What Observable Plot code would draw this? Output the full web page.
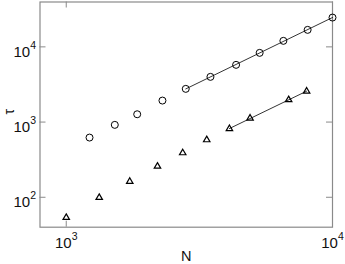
<!DOCTYPE html>
<html>
<head>
<meta charset="utf-8">
<script src="https://cdn.jsdelivr.net/npm/d3@7"></script>
<script src="https://cdn.jsdelivr.net/npm/@observablehq/plot@0.6"></script>
<style>
  html, body { margin: 0; padding: 0; background: #fff; }
  #chart svg { display: block; }
</style>
</head>
<body>
<div id="chart"></div>
<script>
// Circles series
const circleN   = [1223, 1522, 1847, 2298, 2811, 3480, 4344, 5326, 6539, 8065, 10000];
const circleTau = [622, 918, 1270, 1931, 2764, 3990, 5765, 8320, 12020, 16830, 24530];
// Triangles series
const triN   = [1000, 1330, 1732, 2201, 2738, 3370, 4101, 4902, 6844, 7995];
const triTau = [53.7, 99, 162, 258, 389, 580, 815, 1124, 1974, 2570];
// fit ranges (first N included in power-law fit)
const circleFitFrom = 2800;
const triFitFrom = 4000;
// ticks
const xTicks = [1000, 10000];
const yTicks = [100, 1000, 10000];
const xLabel = "N";
const yLabel = "τ";

const circles = circleN.map((n, i) => ({N: n, tau: circleTau[i]}));
const tris = triN.map((n, i) => ({N: n, tau: triTau[i]}));

function fitLine(data, from) {
  const pts = data.filter(d => d.N >= from);
  const xs = pts.map(d => Math.log10(d.N)), ys = pts.map(d => Math.log10(d.tau));
  const mx = d3.mean(xs), my = d3.mean(ys);
  const b = d3.sum(xs, (x, i) => (x - mx) * (ys[i] - my)) / d3.sum(xs, x => (x - mx) ** 2);
  const a = my - b * mx;
  const [x0, x1] = d3.extent(pts, d => d.N);
  return [x0, x1].map(n => ({N: n, tau: Math.pow(10, a + b * Math.log10(n))}));
}
const circleFit = fitLine(circles, circleFitFrom);
const triFit = fitLine(tris, triFitFrom);

const W = 345, H = 264;
const mL = 39.5, mR = 13, mT = 1.5, mB = 37.3;
const innerW = W - mL - mR, innerH = H - mT - mB;
const tickLen = 6;
const gray = "#8a8a8a";
const fmt = d => "10^" + Math.round(Math.log10(d));
const font = "'Liberation Sans', Arial, sans-serif";

const chart = Plot.plot({
  width: W, height: H,
  marginLeft: mL, marginRight: mR, marginTop: mT, marginBottom: mB,
  x: {type: "log", domain: [797, 10000]},
  y: {type: "log", domain: [40, 39500]},
  style: {fontFamily: font, fontSize: "15px", color: "#111", background: "#fff"},
  marks: [
    Plot.frame({stroke: gray, strokeWidth: 1.2}),
    Plot.tickX(xTicks, {x: d => d, stroke: gray, insetTop: innerH - tickLen}),
    Plot.tickX(xTicks, {x: d => d, stroke: gray, insetBottom: innerH - tickLen}),
    Plot.tickY(yTicks, {y: d => d, stroke: gray, insetRight: innerW - tickLen}),
    Plot.tickY(yTicks, {y: d => d, stroke: gray, insetLeft: innerW - tickLen}),
    Plot.axisX({ticks: xTicks, tickSize: 0, tickPadding: 10, tickFormat: fmt, fontSize: 15, label: null}),
    Plot.axisY({ticks: yTicks, tickSize: 0, tickPadding: 4, tickFormat: fmt, dy: 5, fontSize: 15, label: null}),
    Plot.text([xLabel], {text: d => d, frameAnchor: "bottom", dy: 33.5, lineAnchor: "bottom", fontSize: 14.5, fill: "#111"}),
    Plot.text([yLabel], {text: d => d, frameAnchor: "left", dx: -36, rotate: -90, lineAnchor: "top", fontSize: 14, fill: "#111"}),
    Plot.line(circleFit, {x: "N", y: "tau", stroke: "#000", strokeWidth: 0.8}),
    Plot.line(triFit, {x: "N", y: "tau", stroke: "#000", strokeWidth: 0.8}),
    Plot.dot(circles, {x: "N", y: "tau", r: 3.5, stroke: "#000", strokeWidth: 1, fill: "none"}),
    Plot.dot(tris, {x: "N", y: "tau", r: 2.4, symbol: "triangle", stroke: "#000", strokeWidth: 1.2, fill: "none"})
  ]
});

// superscript exponents in tick labels
d3.select(chart).selectAll("text").each(function() {
  const el = this;
  const tspans = el.querySelectorAll("tspan");
  const target = tspans.length ? tspans[0] : el;
  const m = /^10\^(\d)$/.exec(target.textContent);
  if (!m) return;
  target.textContent = "10";
  const sup = document.createElementNS("http://www.w3.org/2000/svg", "tspan");
  sup.setAttribute("dy", "-8");
  sup.setAttribute("font-size", "10.5");
  sup.textContent = m[1];
  target.appendChild(sup);
});

document.getElementById("chart").appendChild(chart);
</script>
</body>
</html>
